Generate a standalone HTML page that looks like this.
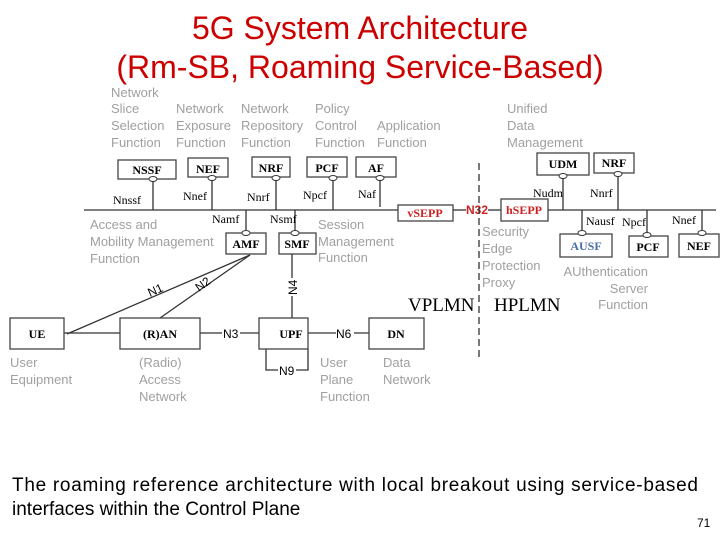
<!DOCTYPE html>
<html><head><meta charset="utf-8"><style>
body{margin:0;background:#fff;width:720px;height:540px;overflow:hidden}
svg{display:block}
.g{font-family:"Liberation Sans",sans-serif;font-size:13px;fill:#a0a0a0}
.s{font-family:"Liberation Serif",serif;font-size:12px;fill:#000}
.b{font-family:"Liberation Serif",serif;font-size:12px;font-weight:bold;fill:#000}
.n{font-family:"Liberation Sans",sans-serif;font-size:12px;fill:#000}
rect{fill:#fff;stroke:#444;stroke-width:1.3}
line,polyline{stroke:#333;stroke-width:1.3;fill:none}
ellipse{fill:#fff;stroke:#333;stroke-width:1}
</style></head><body>
<svg width="720" height="540" viewBox="0 0 720 540">
<text x="360" y="39" text-anchor="middle" font-family="Liberation Sans,sans-serif" font-size="32" fill="#cc0000">5G System Architecture</text>
<text x="360" y="78" text-anchor="middle" font-family="Liberation Sans,sans-serif" font-size="32" fill="#cc0000">(Rm-SB, Roaming Service-Based)</text>

<g class="g">
<text x="111" y="97">Network</text>
<text x="111" y="113">Slice</text><text x="111" y="130">Selection</text><text x="111" y="147">Function</text>
<text x="176" y="113">Network</text><text x="176" y="130">Exposure</text><text x="176" y="147">Function</text>
<text x="241" y="113">Network</text><text x="241" y="130">Repository</text><text x="241" y="147">Function</text>
<text x="315" y="113">Policy</text><text x="315" y="130">Control</text><text x="315" y="147">Function</text>
<text x="377" y="130">Application</text><text x="377" y="147">Function</text>
<text x="507" y="113">Unified</text><text x="507" y="130">Data</text><text x="507" y="147">Management</text>
<text x="90" y="229">Access and</text><text x="90" y="246">Mobility Management</text><text x="90" y="263">Function</text>
<text x="318" y="229">Session</text><text x="318" y="246">Management</text><text x="318" y="262">Function</text>
<text x="482" y="236">Security</text><text x="482" y="253">Edge</text><text x="482" y="270">Protection</text><text x="482" y="287">Proxy</text>
<text x="648" y="276" text-anchor="end">AUthentication</text><text x="648" y="293" text-anchor="end">Server</text><text x="648" y="309" text-anchor="end">Function</text>
<text x="10" y="367">User</text><text x="10" y="384">Equipment</text>
<text x="139" y="367">(Radio)</text><text x="139" y="384">Access</text><text x="139" y="401">Network</text>
<text x="320" y="367">User</text><text x="320" y="384">Plane</text><text x="320" y="401">Function</text>
<text x="383" y="367">Data</text><text x="383" y="384">Network</text>
</g>

<line x1="84" y1="210" x2="398" y2="210"/>
<line x1="153" y1="179" x2="153" y2="210"/><line x1="212" y1="178" x2="212" y2="210"/>
<line x1="276" y1="178" x2="276" y2="210"/><line x1="333" y1="178" x2="333" y2="210"/>
<line x1="380" y1="178" x2="380" y2="207"/>
<line x1="246" y1="210" x2="246" y2="233"/><line x1="295" y1="210" x2="295" y2="233"/>
<rect x="118" y="160" width="58" height="19"/><rect x="188" y="158" width="40" height="19"/>
<rect x="252" y="157" width="38" height="20"/><rect x="307" y="157" width="40" height="20"/>
<rect x="356" y="157" width="40" height="20"/>
<ellipse cx="153" cy="179" rx="4" ry="2.5"/><ellipse cx="212" cy="178" rx="4" ry="2.5"/>
<ellipse cx="276" cy="178" rx="4" ry="2.5"/><ellipse cx="333" cy="178" rx="4" ry="2.5"/>
<ellipse cx="380" cy="178" rx="4" ry="2.5"/>
<text class="b" x="147" y="174" text-anchor="middle">NSSF</text>
<text class="b" x="208" y="173" text-anchor="middle">NEF</text>
<text class="b" x="271" y="172" text-anchor="middle">NRF</text>
<text class="b" x="327" y="172" text-anchor="middle">PCF</text>
<text class="b" x="376" y="172" text-anchor="middle">AF</text>
<text class="s" x="113" y="204">Nnssf</text><text class="s" x="183" y="200">Nnef</text>
<text class="s" x="247" y="201">Nnrf</text><text class="s" x="303" y="199">Npcf</text>
<text class="s" x="358" y="198">Naf</text>
<text class="s" x="212" y="223">Namf</text><text class="s" x="270" y="223">Nsmf</text>
<rect x="226" y="233" width="40" height="21"/><rect x="279" y="233" width="37" height="21"/>
<ellipse cx="246" cy="233" rx="4" ry="2.5"/><ellipse cx="295" cy="233" rx="4" ry="2.5"/>
<text class="b" x="246" y="248" text-anchor="middle">AMF</text>
<text class="b" x="297" y="248" text-anchor="middle">SMF</text>

<rect x="398" y="205" width="55" height="16"/>
<text x="425" y="217" text-anchor="middle" font-family="Liberation Serif,serif" font-size="12" font-weight="bold" fill="#cc2222">vSEPP</text>
<line x1="453" y1="210" x2="466" y2="210" stroke="#cc2222"/>
<text x="466" y="214" font-family="Liberation Sans,sans-serif" font-size="12" font-weight="bold" fill="#cc2222">N32</text>
<line x1="488" y1="210" x2="501" y2="210"/>
<line x1="479" y1="163" x2="479" y2="360" stroke-dasharray="7,4"/>

<line x1="64" y1="333" x2="120" y2="333"/>
<line x1="67" y1="334" x2="250" y2="255"/>
<line x1="160" y1="318" x2="250" y2="255"/>
<text class="n" x="150" y="297" transform="rotate(-24 150 297)">N1</text>
<text class="n" x="199" y="292" transform="rotate(-36 199 292)">N2</text>
<line x1="292" y1="254" x2="292" y2="318"/>
<rect x="286" y="278" width="12" height="18" style="fill:#fff;stroke:none"/>
<text class="n" x="297" y="295" transform="rotate(-90 297 295)">N4</text>
<line x1="200" y1="333" x2="259" y2="333"/>
<rect x="222" y="326" width="18" height="14" style="fill:#fff;stroke:none"/>
<text class="n" x="223" y="338">N3</text>
<line x1="308" y1="333" x2="369" y2="333"/>
<rect x="336" y="326" width="18" height="14" style="fill:#fff;stroke:none"/>
<text class="n" x="336" y="338">N6</text>
<polyline points="266,349 266,370 308,370 308,349"/>
<rect x="278" y="364" width="18" height="13" style="fill:#fff;stroke:none"/>
<text class="n" x="279" y="375">N9</text>
<rect x="10" y="318" width="54" height="31"/><rect x="120" y="318" width="80" height="31"/>
<rect x="259" y="318" width="49" height="31"/><rect x="369" y="318" width="55" height="31"/>
<text class="b" x="37" y="338" text-anchor="middle">UE</text>
<text class="b" x="160" y="338" text-anchor="middle">(R)AN</text>
<text class="b" x="291" y="338" text-anchor="middle">UPF</text>
<text class="b" x="396" y="338" text-anchor="middle">DN</text>
<text x="408" y="311" font-family="Liberation Serif,serif" font-size="19">VPLMN</text>
<text x="494" y="311" font-family="Liberation Serif,serif" font-size="19">HPLMN</text>

<line x1="548" y1="210" x2="716" y2="210"/>
<line x1="563" y1="176" x2="563" y2="210"/><line x1="618" y1="174" x2="618" y2="210"/>
<line x1="582" y1="210" x2="582" y2="233"/><line x1="647" y1="210" x2="647" y2="235"/>
<line x1="702" y1="210" x2="702" y2="233"/>
<rect x="501" y="199" width="47" height="22"/>
<text x="524" y="214" text-anchor="middle" font-family="Liberation Serif,serif" font-size="12" font-weight="bold" fill="#cc2222">hSEPP</text>
<rect x="537" y="153" width="52" height="22"/><rect x="594" y="153" width="40" height="20"/>
<ellipse cx="563" cy="176" rx="4" ry="2.5"/><ellipse cx="618" cy="174" rx="4" ry="2.5"/>
<text class="b" x="563" y="168" text-anchor="middle">UDM</text>
<text class="b" x="614" y="167" text-anchor="middle">NRF</text>
<text class="s" x="533" y="197">Nudm</text><text class="s" x="590" y="197">Nnrf</text>
<text class="s" x="586" y="225">Nausf</text><text class="s" x="622" y="226">Npcf</text>
<text class="s" x="672" y="224">Nnef</text>
<rect x="560" y="234" width="52" height="23"/><rect x="629" y="236" width="39" height="21"/>
<rect x="679" y="234" width="40" height="23"/>
<ellipse cx="582" cy="233" rx="4" ry="2.5"/><ellipse cx="647" cy="235" rx="4" ry="2.5"/>
<ellipse cx="702" cy="233" rx="4" ry="2.5"/>
<text x="586" y="250" text-anchor="middle" font-family="Liberation Serif,serif" font-size="12" font-weight="bold" fill="#4a6fa8">AUSF</text>
<text class="b" x="648" y="251" text-anchor="middle">PCF</text>
<text class="b" x="699" y="250" text-anchor="middle">NEF</text>

<text x="12" y="491" font-family="Liberation Sans,sans-serif" font-size="19" textLength="686" lengthAdjust="spacing">The roaming reference architecture with local breakout using service-based</text>
<text x="12" y="515" font-family="Liberation Sans,sans-serif" font-size="19">interfaces within the Control Plane</text>
<text x="697" y="527" font-family="Liberation Sans,sans-serif" font-size="12">71</text>
</svg>
</body></html>
